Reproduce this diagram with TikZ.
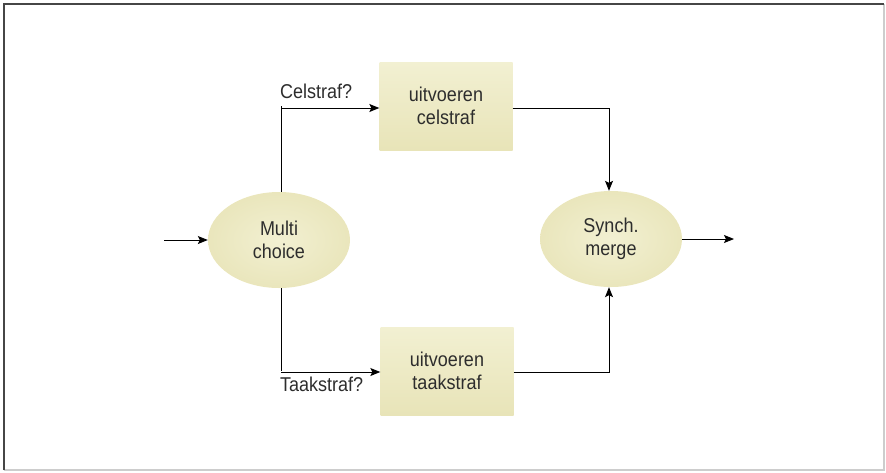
\documentclass[tikz,border=0pt]{standalone}
\usepackage{fontspec}
\setmainfont{Liberation Sans}[FakeStretch=0.9]
\usetikzlibrary{arrows.meta,shapes.geometric}
\definecolor{fillA}{RGB}{242,240,210}
\definecolor{fillB}{RGB}{232,228,184}
\definecolor{frameC}{RGB}{70,70,70}
\definecolor{frameL}{RGB}{205,205,205}
\definecolor{txt}{RGB}{45,45,45}
\tikzset{
  every node/.style={font=\fontsize{20}{23}\selectfont, text=txt},
  task/.style={rectangle, minimum width=133pt, minimum height=88pt, align=center,
    top color=fillA, bottom color=fillB, inner sep=0pt},
  gate/.style={ellipse, minimum width=142pt, minimum height=96pt, align=center,
    inner color=fillA, outer color=fillB!85!fillA, inner sep=0pt},
  flow/.style={line width=0.9pt, -{Stealth[length=10pt,width=8pt,inset=2pt]}},
  lbl/.style={inner sep=0pt}
}
\begin{document}
\begin{tikzpicture}[x=1pt,y=-1pt]
\useasboundingbox (0,0) rectangle (886,472);
\draw[frameL, line width=1.5pt] (4,470) -- (884,470) -- (884,4);
\draw[frameC, line width=2pt] (4,470) -- (4,4) -- (884,4);
\node[gate] (mc) at (279,240) {Multi\\choice};
\node[gate] (sm) at (611,239) {Synch.\\merge};
\node[task] (tc) at (446,106) {uitvoeren\\celstraf};
\node[task] (tt) at (447,371) {uitvoeren\\taakstraf};
\coordinate (in) at (164,240);
\coordinate (out) at (734,239);
\coordinate (mcx) at (281,240);
\coordinate (smx) at (609,239);
\draw[flow] (in) -- (mc.west);
\draw[flow] (sm.east) -- (out);
\draw[flow] (mcx |- mc.north) -- (mcx |- tc.west) ++(0,2) coordinate (ta) -- (tc.west |- ta);
\draw[flow] (mcx |- mc.south) -- (mcx |- tt.west) ++(0,1) coordinate (tb) -- (tt.west |- tb);
\draw[flow] (tc.east |- ta) -- (smx |- ta) -- (smx |- sm.north);
\draw[flow] (tt.east |- tb) -- (smx |- tb) -- (smx |- sm.south);
\node[lbl, anchor=south west] (lc) at (280,99) {Celstraf?};
\node[lbl, anchor=north west] (lt) at (280,377) {Taakstraf?};
\end{tikzpicture}
\end{document}
